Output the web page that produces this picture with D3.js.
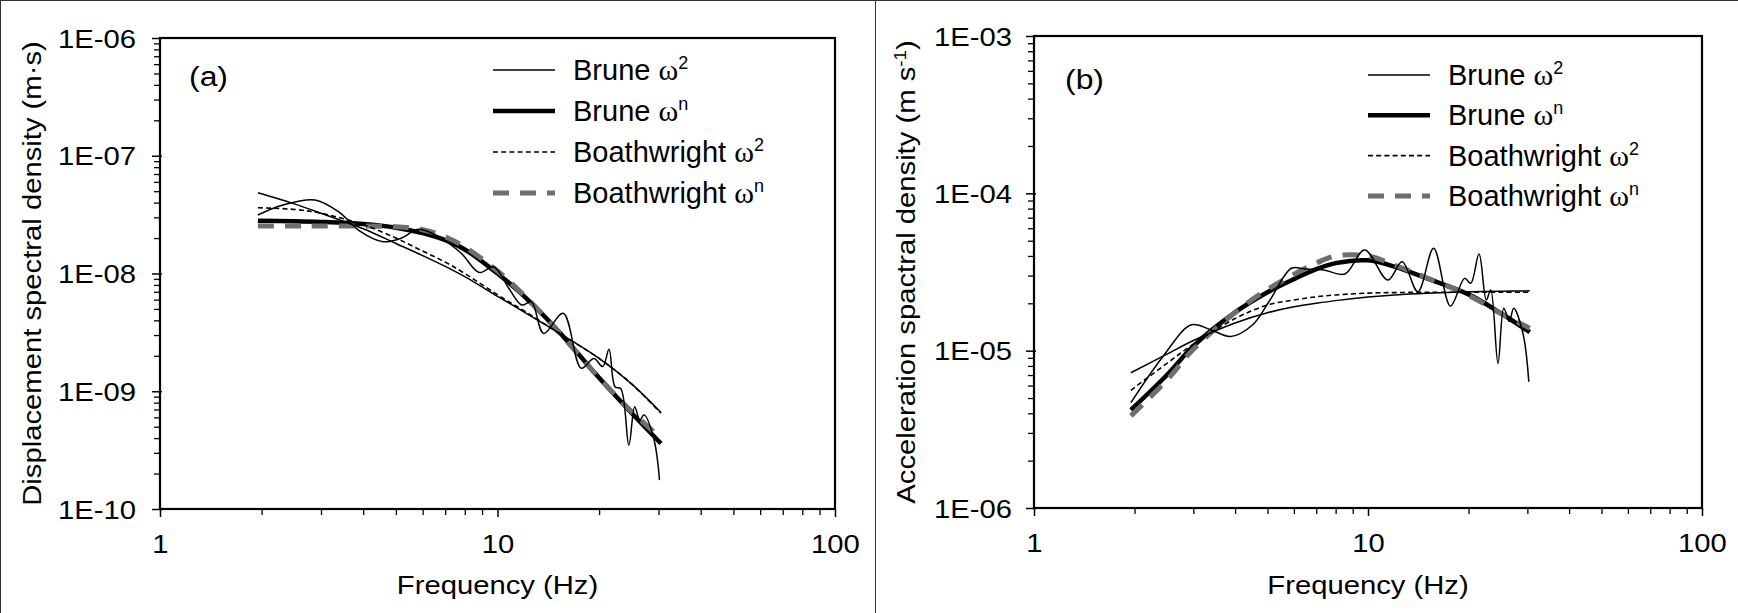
<!DOCTYPE html>
<html><head><meta charset="utf-8">
<script src="https://cdn.jsdelivr.net/npm/d3@7"></script>
<style>body{margin:0;background:#fff} svg{display:block}</style>
</head><body><svg id="c" width="1738" height="613"></svg>
<script>
// ---------- DATA ----------
const modelFreq = [1.95, 2.5, 3, 4, 5, 6, 7, 8, 10, 12, 15, 20, 25, 30.5];

// panel (a) displacement spectra
const dispBruneW2 = [4.85e-8, 3.9e-8, 3.25e-8, 2.4e-8, 1.8e-8, 1.42e-8, 1.15e-8, 9.4e-9, 6.4e-9, 4.7e-9, 3.2e-9, 1.9e-9, 1.15e-9, 6.6e-10];
const dispBruneWn = [2.81e-8, 2.78e-8, 2.74e-8, 2.63e-8, 2.45e-8, 2.2e-8, 1.92e-8, 1.6e-8, 1.0e-8, 6.4e-9, 3.35e-9, 1.3e-9, 6.5e-10, 3.6e-10];
const dispBoatW2  = [3.62e-8, 3.5e-8, 3.25e-8, 2.6e-8, 2.0e-8, 1.55e-8, 1.25e-8, 1.0e-8, 6.6e-9, 4.8e-9, 3.2e-9, 1.9e-9, 1.15e-9, 6.5e-10];
const dispBoatWn  = [2.53e-8, 2.53e-8, 2.53e-8, 2.53e-8, 2.5e-8, 2.35e-8, 2.05e-8, 1.68e-8, 1.05e-8, 6.5e-9, 3.3e-9, 1.3e-9, 6.7e-10, 4.0e-10];
const obsFreqA = [1.95, 2.3, 2.88, 3.4, 3.9, 4.58, 5.2, 5.84, 6.8, 7.82, 8.83, 9.74, 10.8, 11.8, 12.6, 13.7, 15.65, 17.7, 19.3, 20.5, 21.4, 22.3, 23.2, 24.5, 25.5, 26.4, 27.2, 29.1, 30.2];
const obsDispA = [3.14e-8, 3.8e-8, 4.21e-8, 3.3e-8, 2.3e-8, 1.86e-8, 2.0e-8, 2.37e-8, 2.0e-8, 1.48e-8, 1.02e-8, 1.14e-8, 7.5e-9, 5.4e-9, 5.76e-9, 3.1e-9, 4.59e-9, 1.57e-9, 1.9e-9, 1.62e-9, 2.27e-9, 1.09e-9, 1.05e-9, 3.5e-10, 7.4e-10, 5.7e-10, 6.3e-10, 3.85e-10, 1.76e-10];

// panel (b) acceleration spectra
const accBruneW2 = [7.24e-6, 9.5e-6, 1.16e-5, 1.5e-5, 1.74e-5, 1.9e-5, 2.0e-5, 2.08e-5, 2.19e-5, 2.26e-5, 2.32e-5, 2.37e-5, 2.39e-5, 2.4e-5];
const accBruneWn = [4.2e-6, 7.0e-6, 1.07e-5, 1.75e-5, 2.35e-5, 2.85e-5, 3.3e-5, 3.6e-5, 3.75e-5, 3.42e-5, 2.88e-5, 2.28e-5, 1.73e-5, 1.31e-5];
const accBoatW2  = [5.6e-6, 8.3e-6, 1.1e-5, 1.6e-5, 1.95e-5, 2.1e-5, 2.2e-5, 2.26e-5, 2.32e-5, 2.34e-5, 2.35e-5, 2.35e-5, 2.35e-5, 2.35e-5];
const accBoatWn  = [3.85e-6, 6.5e-6, 1.02e-5, 1.75e-5, 2.45e-5, 3.05e-5, 3.6e-5, 4.0e-5, 4.0e-5, 3.5e-5, 2.9e-5, 2.25e-5, 1.72e-5, 1.39e-5];
const obsFreqB = [1.95, 2.43, 2.96, 3.4, 3.88, 4.5, 5.09, 5.9, 6.5, 7.36, 8.53, 9.77, 11.47, 12.65, 14.1, 15.72, 17.65, 19.46, 20.3, 21.5, 22.6, 23.3, 24.5, 25.5, 26.5, 27.3, 29.1, 30.3];
const obsAccB = [4.67e-6, 9.16e-6, 1.46e-5, 1.35e-5, 1.23e-5, 1.45e-5, 2.1e-5, 3.34e-5, 3.3e-5, 3.26e-5, 3.07e-5, 4.36e-5, 2.81e-5, 3.68e-5, 2.37e-5, 4.47e-5, 1.92e-5, 2.88e-5, 2.68e-5, 4.12e-5, 2.1e-5, 2.43e-5, 8.3e-6, 1.86e-5, 1.53e-5, 1.86e-5, 1.29e-5, 6.35e-6];

// axes / labels
const xTicks = [1, 10, 100];
const xTickLabels = ["1", "10", "100"];
const yTicksA = [1e-10, 1e-9, 1e-8, 1e-7, 1e-6];
const yTickLabelsA = ["1E-10", "1E-09", "1E-08", "1E-07", "1E-06"];
const yTicksB = [1e-6, 1e-5, 1e-4, 1e-3];
const yTickLabelsB = ["1E-06", "1E-05", "1E-04", "1E-03"];
const legendNames = ["Brune ", "Brune ", "Boathwright ", "Boathwright "];
const legendSup = ["2", "n", "2", "n"];
const xTitle = "Frequency (Hz)";

// ---------- DRAW ----------
const svg = d3.select("#c");
svg.append("rect").attr("width", 1738).attr("height", 613).attr("fill", "#fff");
// outer panel borders (top, left, divider)
svg.append("line").attr("x1", 0).attr("x2", 1738).attr("y1", 0.5).attr("y2", 0.5).attr("stroke", "#333");
svg.append("line").attr("x1", 0.5).attr("x2", 0.5).attr("y1", 0).attr("y2", 613).attr("stroke", "#333");
svg.append("line").attr("x1", 875.5).attr("x2", 875.5).attr("y1", 0).attr("y2", 613).attr("stroke", "#333");

const SX = 1.17; // horizontal stretch of axis text
const styles = [
  {w: 1.5, dash: null, color: "#000"},
  {w: 4.5, dash: null, color: "#000"},
  {w: 1.6, dash: "5,3.2", color: "#000"},
  {w: 5, dash: "16,11", color: "#6e6e6e"}
];

function minorTicks(lo, hi) {
  const out = [];
  for (let e = Math.round(Math.log10(lo)); e < Math.round(Math.log10(hi)); e++) {
    for (let k = 2; k <= 9; k++) out.push(k * Math.pow(10, e));
  }
  return out;
}

function panel(cfg) {
  const g = svg.append("g");
  const x = d3.scaleLog().domain([1, 100]).range([cfg.left, cfg.right]);
  const y = d3.scaleLog().domain(cfg.yDomain).range([cfg.bottom, cfg.top]);

  // minor ticks
  g.append("g").attr("transform", `translate(0,${cfg.bottom})`)
    .call(d3.axisBottom(x).tickValues(minorTicks(1, 100)).tickFormat("").tickSizeInner(6).tickSizeOuter(0))
    .call(s => s.select(".domain").remove())
    .call(s => s.selectAll("line").attr("stroke-width", 1.3));
  g.append("g").attr("transform", `translate(${cfg.left},0)`)
    .call(d3.axisLeft(y).tickValues(minorTicks(cfg.yDomain[0], cfg.yDomain[1])).tickFormat("").tickSizeInner(6).tickSizeOuter(0))
    .call(s => s.select(".domain").remove())
    .call(s => s.selectAll("line").attr("stroke-width", 1.3));

  // major x
  g.append("g").attr("transform", `translate(0,${cfg.bottom})`)
    .call(d3.axisBottom(x).tickValues(xTicks).tickFormat((d, i) => xTickLabels[i]).tickSizeInner(8).tickSizeOuter(0))
    .call(s => s.select(".domain").remove())
    .call(s => s.selectAll("line").attr("stroke-width", 1.5))
    .call(s => s.selectAll("text").attr("y", 44).attr("dy", 0)
      .attr("transform", `scale(${SX},1)`)
      .attr("font-family", "'Liberation Sans', Arial, sans-serif").attr("font-size", 25).attr("fill", "#000"));
  // major y
  g.append("g").attr("transform", `translate(${cfg.left},0)`)
    .call(d3.axisLeft(y).tickValues(cfg.yTicks).tickFormat((d, i) => cfg.yLabels[i]).tickSizeInner(8).tickSizeOuter(0))
    .call(s => s.select(".domain").remove())
    .call(s => s.selectAll("line").attr("stroke-width", 1.5).attr("x2", -8).attr("x1", 2))
    .call(s => s.selectAll("text").attr("x", -cfg.labelGap / SX).attr("dy", "0.36em")
      .attr("transform", `scale(${SX},1)`)
      .attr("font-family", "'Liberation Sans', Arial, sans-serif").attr("font-size", 25).attr("fill", "#000"));

  // series
  const line = d3.line().x(d => x(d[0])).y(d => y(d[1])).curve(d3.curveCatmullRom.alpha(0.5));
  const clipId = "clip" + cfg.id;
  g.append("clipPath").attr("id", clipId).append("rect")
    .attr("x", cfg.left).attr("y", cfg.top).attr("width", cfg.right - cfg.left).attr("height", cfg.bottom - cfg.top);
  const pg = g.append("g").attr("clip-path", `url(#${clipId})`);
  const drawOrder = [1, 3, 0, 2];
  drawOrder.forEach(i => {
    const st = styles[i];
    pg.append("path").datum(modelFreq.map((f, j) => [f, cfg.models[i][j]]))
      .attr("d", line).attr("fill", "none").attr("stroke", st.color)
      .attr("stroke-width", st.w).attr("stroke-dasharray", st.dash);
  });
  pg.append("path").datum(cfg.obsF.map((f, j) => [f, cfg.obsV[j]]))
    .attr("d", line).attr("fill", "none").attr("stroke", "#000").attr("stroke-width", 1.5);

  // frame
  g.append("rect").attr("x", cfg.left).attr("y", cfg.top)
    .attr("width", cfg.right - cfg.left).attr("height", cfg.bottom - cfg.top)
    .attr("fill", "none").attr("stroke", "#000").attr("stroke-width", 2.2);

  // x title
  g.append("text").attr("transform", `translate(${(cfg.left + cfg.right) / 2},594) scale(${SX},1)`)
    .attr("text-anchor", "middle").attr("font-family", "'Liberation Sans', Arial, sans-serif")
    .attr("font-size", 25).text(xTitle);
  // y title
  const yt = g.append("text")
    .attr("transform", `translate(${cfg.left - 119},${(cfg.top + cfg.bottom) / 2}) rotate(-90) scale(${SX},1)`)
    .attr("text-anchor", "middle").attr("font-family", "'Liberation Sans', Arial, sans-serif")
    .attr("font-size", 25);
  yt.append("tspan").text(cfg.yTitle);
  if (cfg.yTitleSup) {
    yt.append("tspan").attr("dy", -9).attr("font-size", 16).text(cfg.yTitleSup);
    yt.append("tspan").attr("dy", 9).text(cfg.yTitleEnd);
  } else if (cfg.yTitleEnd) {
    yt.append("tspan").text(cfg.yTitleEnd);
  }

  // panel letter
  g.append("text").attr("transform", `translate(${cfg.letterX},${cfg.letterY}) scale(1.14,1)`)
    .attr("font-family", "'Liberation Sans', Arial, sans-serif").attr("font-size", 28).text(cfg.letter);

  // legend
  legendNames.forEach((name, i) => {
    const ly = cfg.legY + i * cfg.legDy;
    const st = styles[i];
    g.append("line").attr("x1", cfg.legX).attr("x2", cfg.legX + 62).attr("y1", ly).attr("y2", ly)
      .attr("stroke", st.color).attr("stroke-width", st.w === 1.5 ? 1.6 : st.w).attr("stroke-dasharray", st.dash);
    const t = g.append("text").attr("x", cfg.legX + 80).attr("y", ly + 10)
      .attr("font-family", "'Liberation Sans', Arial, sans-serif").attr("font-size", 29);
    t.append("tspan").text(name);
    t.append("tspan").attr("font-family", "'Liberation Serif', 'Times New Roman', serif").attr("font-size", 30).text("ω");
    t.append("tspan").attr("dy", -11).attr("font-size", 18).text(legendSup[i]);
  });
}

panel({
  id: "a", left: 160, right: 835, top: 38, bottom: 509,
  yDomain: [1e-10, 1e-6], yTicks: yTicksA, yLabels: yTickLabelsA, labelGap: 24,
  models: [dispBruneW2, dispBruneWn, dispBoatW2, dispBoatWn], obsF: obsFreqA, obsV: obsDispA,
  yTitle: "Displacement spectral density (m·s)", yTitleSup: null, yTitleEnd: null,
  letter: "(a)", letterX: 189, letterY: 86, legX: 493, legY: 70, legDy: 41
});
panel({
  id: "b", left: 1034, right: 1702, top: 36, bottom: 508,
  yDomain: [1e-6, 1e-3], yTicks: yTicksB, yLabels: yTickLabelsB, labelGap: 22,
  models: [accBruneW2, accBruneWn, accBoatW2, accBoatWn], obsF: obsFreqB, obsV: obsAccB,
  yTitle: "Acceleration spactral density (m s", yTitleSup: "-1", yTitleEnd: ")",
  letter: "(b)", letterX: 1065, letterY: 89, legX: 1368, legY: 75, legDy: 40.3
});
</script></body></html>
